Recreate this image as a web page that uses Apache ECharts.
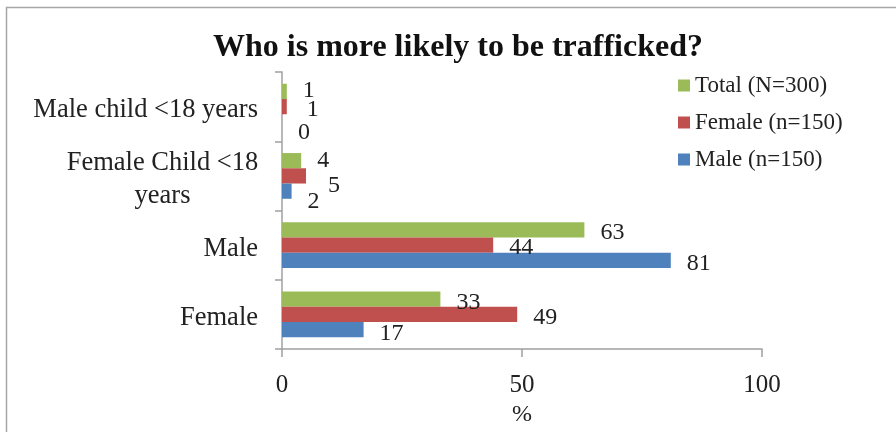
<!DOCTYPE html>
<html><head><meta charset="utf-8">
<script src="https://cdn.jsdelivr.net/npm/echarts@6/dist/echarts.min.js"></script>
<style>html,body{margin:0;padding:0;background:#fff}#c{width:896px;height:432px}</style>
</head><body><div id="c"></div>
<script>
const categories = ['Female', 'Male', 'Female Child <18 years', 'Male child <18 years'];
const maleValues = [17, 81, 2, 0];
const femaleValues = [49, 44, 5, 1];
const totalValues = [33, 63, 4, 1];
const xTicks = [0, 50, 100];
const legendOrder = ['Total (N=300)', 'Female (n=150)', 'Male (n=150)'];

// small label nudges (pixels) as in the original, which moved crowded labels
const totalLabelShift = [[0, 3], [0, 3], [0, 0], [0, -1]];
const femaleLabelShift = [[0, 3], [0, 3], [6, 10], [4, 3]];
const maleLabelShift = [[0, 4], [0, 3], [0, 11], [0, 11]];

const serif = '"Liberation Serif","Times New Roman",serif';
const chart = echarts.init(document.getElementById('c'));
const build = (vals, shifts) => vals.map((v, i) => ({value: v, label: {offset: shifts[i]}}));
const lbl = {show: true, position: 'right', distance: 16, fontFamily: serif, fontSize: 24, color: '#222'};
chart.setOption({
  animation: false,
  graphic: [{type: 'rect', shape: {x: 6.5, y: 7.5, width: 900, height: 500}, style: {fill: 'none', stroke: '#a6a6a6', lineWidth: 1.5}, silent: true}],
  title: {text: 'Who is more likely to be trafficked?', left: 453, textAlign: 'center', top: 27,
    textStyle: {fontFamily: serif, fontWeight: 'bold', fontSize: 32, color: '#111'}},
  legend: {orient: 'vertical', left: 673, top: 69, itemWidth: 12, itemHeight: 12, itemGap: 14,
    data: legendOrder, icon: 'rect',
    textStyle: {fontFamily: serif, fontSize: 23, color: '#222'}},
  grid: {left: 282, right: 134, top: 72, bottom: 80},
  xAxis: {type: 'value', min: 0, max: 100, interval: 50, name: '%', nameLocation: 'middle', nameGap: 52,
    nameTextStyle: {fontFamily: serif, fontSize: 24, color: '#222'},
    axisLine: {show: true, lineStyle: {color: '#a0a0a0', width: 1.5}},
    axisTick: {show: true, length: 8, lineStyle: {color: '#a0a0a0', width: 1.5}},
    splitLine: {show: false},
    axisLabel: {fontFamily: serif, fontSize: 25, color: '#222', margin: 24,
      formatter: v => xTicks.includes(v) ? String(v) : ''}},
  yAxis: {type: 'category', data: categories,
    axisLine: {show: true, lineStyle: {color: '#a0a0a0', width: 1.5}},
    axisTick: {show: true, length: 7, lineStyle: {color: '#a0a0a0', width: 1.5}},
    axisLabel: {fontFamily: serif, fontSize: 26.5, color: '#222', margin: 24, padding: [7, 0, 0, 0],
      formatter: v => v === 'Female Child <18 years' ? '{c|Female Child <18}\n{c|years}' : v,
      rich: {c: {fontFamily: serif, fontSize: 26.5, color: '#222', width: 191, align: 'center', lineHeight: 33}}}},
  series: [
    {name: legendOrder[0], type: 'bar', data: build(totalValues, totalLabelShift), barGap: '0%', barCategoryGap: '34%',
      itemStyle: {color: '#9BBB59'}, label: lbl},
    {name: legendOrder[1], type: 'bar', data: build(femaleValues, femaleLabelShift), barGap: '0%', barCategoryGap: '34%',
      itemStyle: {color: '#C0504D'}, label: lbl},
    {name: legendOrder[2], type: 'bar', data: build(maleValues, maleLabelShift), barGap: '0%', barCategoryGap: '34%',
      itemStyle: {color: '#4F81BD'}, label: lbl}
  ]
});
</script></body></html>
